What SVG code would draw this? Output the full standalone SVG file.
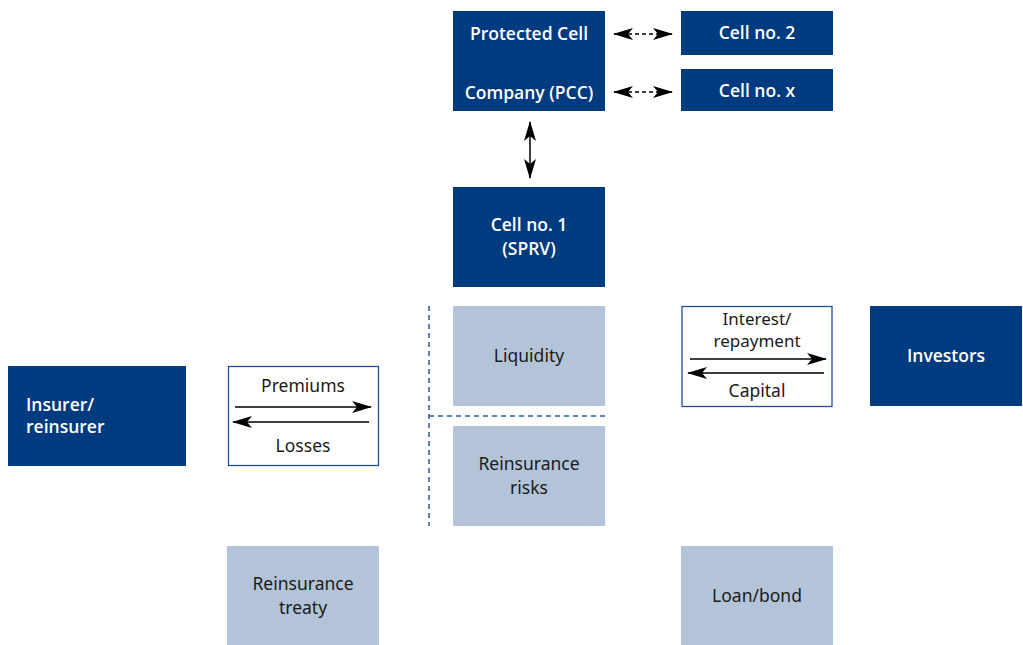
<svg xmlns="http://www.w3.org/2000/svg" width="1023" height="645" viewBox="0 0 1023 645">
<defs>
<style>
.dark{fill:#003a7f}
.light{fill:#b3c4d9}
.out{fill:#fff;stroke:#1f4f9a;stroke-width:1.3}
.wt{fill:#fff;font-family:"Open Sans","Noto Sans",sans-serif;font-weight:600;font-size:17.5px;text-anchor:middle}
.bt{fill:#1a1a1a;font-family:"Noto Sans","Open Sans",sans-serif;font-size:17.5px;text-anchor:middle}
.ln{stroke:#000;stroke-width:1.5;fill:none}
.dash{stroke:#000;stroke-width:1.3;stroke-dasharray:4 3;fill:none}
.sep{stroke:#2c5aa0;stroke-width:1.5;stroke-dasharray:5 4;fill:none}
</style>
<marker id="ah" markerWidth="20" markerHeight="12" refX="19" refY="6" orient="auto-start-reverse" markerUnits="userSpaceOnUse">
<path d="M0,0 L20,6 L0,12 L5,6 Z" fill="#000"/>
</marker>
</defs>
<rect width="1023" height="645" fill="#fff"/>

<g id="pcc"><rect class="dark" x="453" y="11" width="152" height="100"/>
<text class="wt" x="529" y="40">Protected Cell</text><text class="wt" x="529" y="99">Company (PCC)</text></g>
<g id="cell2"><rect class="dark" x="681" y="11" width="152" height="44"/><text class="wt" x="757" y="39">Cell no. 2</text></g>
<g id="cellx"><rect class="dark" x="681" y="69" width="152" height="42"/><text class="wt" x="757" y="97">Cell no. x</text></g>
<g id="cell1"><rect class="dark" x="453" y="187" width="152" height="100"/>
<text class="wt" x="529" y="231">Cell no. 1</text><text class="wt" x="529" y="255">(SPRV)</text></g>
<g id="liquidity"><rect class="light" x="453" y="306" width="152" height="100"/><text class="bt" x="529" y="362">Liquidity</text></g>
<g id="risks"><rect class="light" x="453" y="426" width="152" height="100"/>
<text class="bt" x="529" y="470">Reinsurance</text><text class="bt" x="529" y="494">risks</text></g>
<g id="interest"><rect class="out" x="682" y="306.5" width="150" height="100"/>
<text class="bt" x="757" y="325" style="font-size:17px">Interest/</text><text class="bt" x="757" y="347" style="font-size:17px">repayment</text><text class="bt" x="757" y="397">Capital</text></g>
<g id="investors"><rect class="dark" x="870" y="306" width="152" height="100"/><text class="wt" x="946" y="362">Investors</text></g>
<g id="insurer"><rect class="dark" x="8" y="366" width="178" height="100"/>
<text class="wt" x="26" y="411" style="text-anchor:start">Insurer/</text><text class="wt" x="26" y="433" style="text-anchor:start">reinsurer</text></g>
<g id="premiums"><rect class="out" x="228.5" y="366.5" width="150" height="99"/>
<text class="bt" x="303" y="392">Premiums</text><text class="bt" x="303" y="452">Losses</text></g>
<g id="treaty"><rect class="light" x="227" y="546" width="152" height="99"/>
<text class="bt" x="303" y="590">Reinsurance</text><text class="bt" x="303" y="614">treaty</text></g>
<g id="loan"><rect class="light" x="681" y="546" width="152" height="99"/><text class="bt" x="757" y="602">Loan/bond</text></g>

<g id="connectors">
<line class="dash" x1="614" y1="34" x2="672" y2="34" marker-start="url(#ah)" marker-end="url(#ah)"/>
<line class="dash" x1="614" y1="92" x2="672" y2="92" marker-start="url(#ah)" marker-end="url(#ah)"/>
<line class="ln" x1="530" y1="122" x2="530" y2="178" marker-start="url(#ah)" marker-end="url(#ah)"/>
<line class="ln" x1="235" y1="407" x2="371" y2="407" marker-end="url(#ah)"/>
<line class="ln" x1="369" y1="422" x2="233" y2="422" marker-end="url(#ah)"/>
<line class="ln" x1="690" y1="359" x2="826" y2="359" marker-end="url(#ah)"/>
<line class="ln" x1="824" y1="373" x2="688" y2="373" marker-end="url(#ah)"/>
<line class="sep" x1="429" y1="306" x2="429" y2="526"/>
<line class="sep" x1="429" y1="416" x2="605" y2="416"/>
</g>
</svg>
